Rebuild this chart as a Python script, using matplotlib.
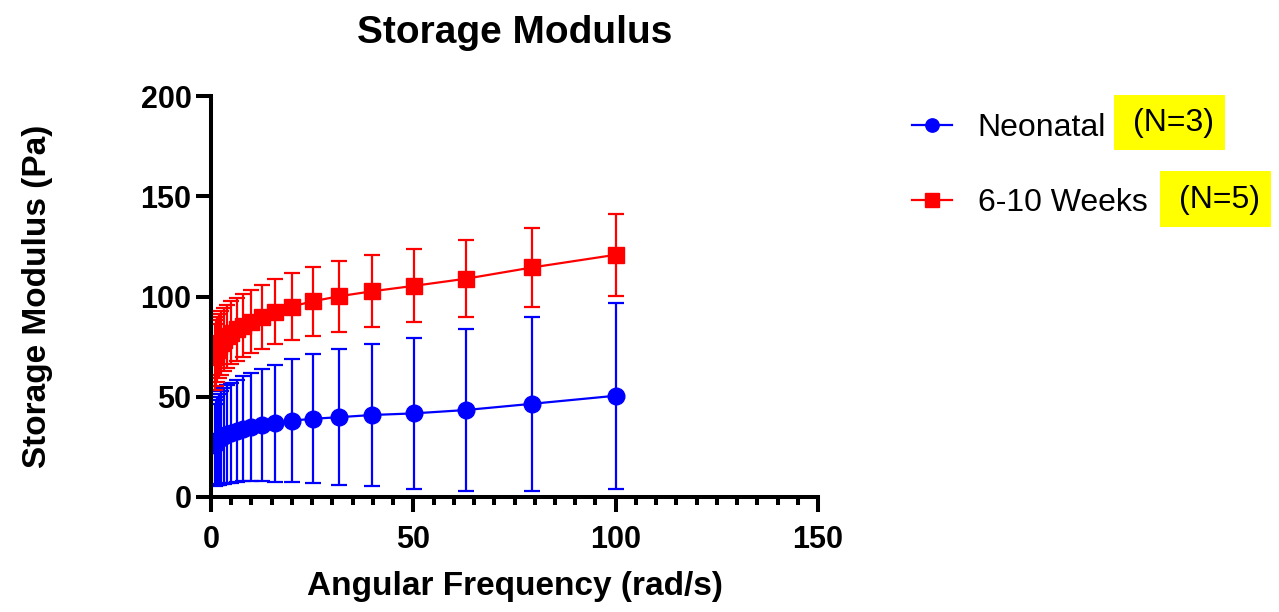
import matplotlib
matplotlib.use("Agg")
import matplotlib.pyplot as plt
from matplotlib.patches import Rectangle
from matplotlib.ticker import MultipleLocator

# ---- data ----
freq = [1.0, 1.26, 1.58, 2.0, 2.51, 3.16, 3.98, 5.01, 6.31, 7.94, 10.0,
        12.6, 15.8, 20.0, 25.1, 31.6, 39.8, 50.1, 63.1, 79.4, 100.0]
neo_mean = [26.0, 27.0, 28.0, 28.8, 29.6, 30.5, 31.3, 32.1, 33.0, 34.0, 35.0,
            35.9, 36.8, 38.1, 39.0, 39.8, 40.9, 41.7, 43.4, 46.5, 50.5]
neo_sd = [20.4, 21.2, 22.0, 22.6, 23.2, 23.8, 24.4, 24.9, 25.5, 26.2, 27.0,
          28.0, 29.2, 30.7, 32.2, 33.9, 35.4, 37.8, 40.4, 43.3, 46.4]
wk_mean = [70.0, 71.8, 73.5, 75.2, 76.8, 78.5, 80.2, 82.0, 83.7, 85.5, 87.4,
           89.9, 92.5, 95.0, 97.6, 100.1, 102.6, 105.3, 108.9, 114.5, 120.8]
wk_sd = [16.5, 16.3, 16.1, 16.0, 15.9, 15.8, 15.7, 15.7, 15.7, 15.7, 15.8,
         16.0, 16.2, 16.6, 17.3, 17.6, 18.0, 18.2, 19.3, 19.8, 20.5]
labels = ["Neonatal", "6-10 Weeks"]
n_labels = ["(N=3)", "(N=5)"]
x_ticks = [0, 50, 100, 150]
y_ticks = [0, 50, 100, 150, 200]

plt.rcParams['font.family'] = ['Liberation Sans', 'DejaVu Sans']

fig = plt.figure(figsize=(12.79, 6.12), dpi=100)
ax = fig.add_axes([211/1279, 1-497/612, 607/1279, 401/612])

ekw = dict(capsize=6, capthick=1.6, elinewidth=1.6, lw=1.6, markersize=12)
h1 = ax.errorbar(freq, neo_mean, yerr=neo_sd, color='#0000ff', marker='o',
                 label=labels[0], **ekw)
h2 = ax.errorbar(freq, wk_mean, yerr=wk_sd, color='#ff0000', marker='s',
                 label=labels[1], **ekw)

ax.set_xlim(0, 150)
ax.set_ylim(0, 200)
ax.set_xticks(x_ticks)
ax.set_yticks(y_ticks)
ax.xaxis.set_minor_locator(MultipleLocator(5))
for s in ['top', 'right']:
    ax.spines[s].set_visible(False)
for s in ['left', 'bottom']:
    ax.spines[s].set_linewidth(2.9)
ax.tick_params(axis='both', which='major', width=2.9, length=11, labelsize=22)
ax.tick_params(axis='x', which='major', pad=9)
ax.tick_params(axis='y', which='major', pad=3)
ax.tick_params(axis='x', which='minor', width=2.9, length=5.5)
for lab in ax.get_xticklabels() + ax.get_yticklabels():
    lab.set_fontweight('bold')

ax.set_title("Storage Modulus", fontsize=28, fontweight='bold', pad=38)
ax.set_xlabel("Angular Frequency (rad/s)", fontsize=24, fontweight='bold', labelpad=12)
ax.set_ylabel("Storage Modulus (Pa)", fontsize=24, fontweight='bold', labelpad=63)

leg = ax.legend(handles=[h1[0], h2[0]], labels=labels, loc='upper left',
                bbox_to_anchor=(0.6906, 0.862),
                bbox_transform=fig.transFigure, frameon=False, fontsize=23,
                handlelength=1.25, handletextpad=0.8, labelspacing=1.4,
                markerscale=0.8)

# highlighted N labels
boxes = [(1114, 95, 111, 55), (1160, 171, 111, 56)]
for (bx, by, bw, bh), t in zip(boxes, n_labels):
    fig.patches.append(Rectangle((bx/1279, 1-(by+bh)/612), bw/1279, bh/612,
                                 transform=fig.transFigure, facecolor='#ffff00',
                                 edgecolor='none', zorder=0))
    fig.text((bx + bw/2 + 4)/1279, 1-(by + bh/2 + 1)/612, t, fontsize=23,
             ha='center', va='center')

fig.savefig("out.png", dpi=100)
